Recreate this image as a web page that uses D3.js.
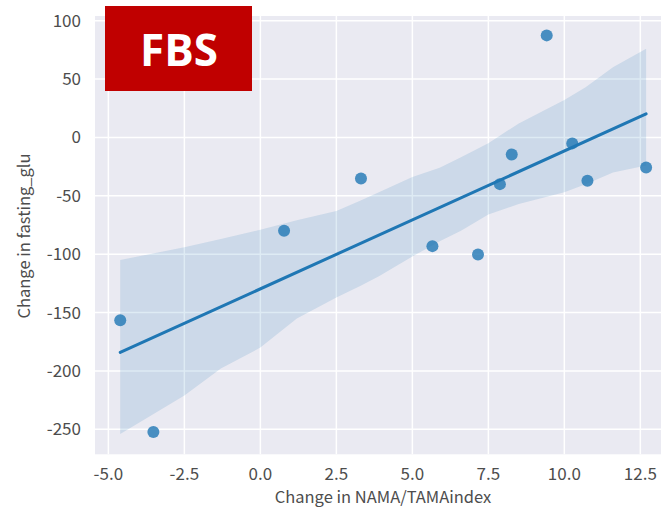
<!DOCTYPE html>
<html>
<head>
<meta charset="utf-8">
<script src="https://cdn.jsdelivr.net/npm/d3@7"></script>
<style>
  body { margin: 0; background: #fff; }
  svg { display: block; }
</style>
</head>
<body>
<svg width="661" height="507"></svg>
<script>
// scatter points
var xValues = [-4.61, -3.52, 0.78, 3.31, 5.66, 7.16, 7.88, 8.27, 9.42, 10.26, 10.76, 12.69];
var yValues = [-156.5, -252.2, -80.0, -35.1, -93.1, -100.2, -40.0, -14.6, 87.4, -5.1, -37.2, -25.7];

// confidence band edges
var bandX     = [-4.61, -2.5, -1.3, 0, 1.2, 2.5, 3.3, 3.9, 5.0, 5.9, 6.6, 7.5, 8.5, 10.0, 10.7, 11.6, 12.69];
var bandUpper = [-105, -94, -87, -79, -71, -63, -54, -47, -34, -26, -17, -5, 12, 32, 43, 60, 76];
var bandLower = [-254, -221, -198, -180, -155, -137, -127, -119, -102, -89, -80, -66, -57, -47, -40, -30, -24];

var xTicks = [-5, -2.5, 0, 2.5, 5, 7.5, 10, 12.5];
var yTicks = [-250, -200, -150, -100, -50, 0, 50, 100];

var svg = d3.select("svg"),
    margin = {top: 16, left: 95, bottom: 454.3, right: 675.9};

var x = d3.scaleLinear().domain([-5.44, 13.67]).range([margin.left, margin.right]);
var y = d3.scaleLinear().domain([-271.4, 104]).range([margin.bottom, margin.top]);

var blue = "#1f77b4";
var font = "'Noto Sans CJK JP', 'DejaVu Sans', sans-serif";
var textColor = "#4d4d4d";

// background
svg.append("rect")
    .attr("x", margin.left)
    .attr("y", margin.top)
    .attr("width", margin.right - margin.left)
    .attr("height", margin.bottom - margin.top)
    .attr("fill", "#eaeaf2");

// grid
svg.selectAll(".vgrid").data(xTicks).enter().append("line")
    .attr("x1", d => x(d)).attr("x2", d => x(d))
    .attr("y1", margin.top).attr("y2", margin.bottom)
    .attr("stroke", "#fff").attr("stroke-width", 1.5);
svg.selectAll(".hgrid").data(yTicks).enter().append("line")
    .attr("y1", d => y(d)).attr("y2", d => y(d))
    .attr("x1", margin.left).attr("x2", margin.right)
    .attr("stroke", "#fff").attr("stroke-width", 1.5);

// band
var area = d3.area()
    .x((d, i) => x(bandX[i]))
    .y0((d, i) => y(bandLower[i]))
    .y1((d, i) => y(bandUpper[i]));
svg.append("path")
    .datum(bandX)
    .attr("d", area)
    .attr("fill", blue)
    .attr("fill-opacity", 0.15);

// least squares fit line
var mx = d3.mean(xValues), my = d3.mean(yValues);
var sxy = d3.sum(xValues, (d, i) => (d - mx) * (yValues[i] - my));
var sxx = d3.sum(xValues, d => (d - mx) * (d - mx));
var slope = sxy / sxx, intercept = my - slope * mx;
var xr = d3.extent(xValues);
svg.append("line")
    .attr("x1", x(xr[0])).attr("y1", y(intercept + slope * xr[0]))
    .attr("x2", x(xr[1])).attr("y2", y(intercept + slope * xr[1]))
    .attr("stroke", blue)
    .attr("stroke-width", 3)
    .attr("stroke-linecap", "round");

// points
svg.selectAll(".pt").data(xValues).enter().append("circle")
    .attr("cx", d => x(d))
    .attr("cy", (d, i) => y(yValues[i]))
    .attr("r", 6)
    .attr("fill", blue)
    .attr("fill-opacity", 0.8);

// tick labels
svg.selectAll(".xt").data(xTicks).enter().append("text")
    .attr("x", d => x(d))
    .attr("y", 480)
    .attr("text-anchor", "middle")
    .attr("font-family", font)
    .attr("font-size", 17)
    .attr("fill", textColor)
    .text(d => d3.format(".1f")(d).replace("−", "-"));
svg.selectAll(".yt").data(yTicks).enter().append("text")
    .attr("x", 81)
    .attr("y", d => y(d))
    .attr("dy", "0.35em")
    .attr("text-anchor", "end")
    .attr("font-family", font)
    .attr("font-size", 17)
    .attr("fill", textColor)
    .text(d => String(d));

// axis labels
svg.append("text")
    .attr("x", 383)
    .attr("y", 503)
    .attr("text-anchor", "middle")
    .attr("font-family", font)
    .attr("font-size", 16.5)
    .attr("fill", textColor)
    .text("Change in NAMA/TAMAindex");
svg.append("text")
    .attr("transform", "translate(30,236) rotate(-90)")
    .attr("text-anchor", "middle")
    .attr("font-family", font)
    .attr("font-size", 16.5)
    .attr("fill", textColor)
    .text("Change in fasting_glu");

// FBS badge
svg.append("rect")
    .attr("x", 105).attr("y", 6)
    .attr("width", 147).attr("height", 85)
    .attr("fill", "#c00000");
svg.append("text")
    .attr("x", 179).attr("y", 66)
    .attr("text-anchor", "middle")
    .attr("font-family", "'Open Sans', sans-serif")
    .attr("font-weight", "bold")
    .attr("font-size", 44)
    .attr("fill", "#fff")
    .text("FBS");
</script>
</body>
</html>
